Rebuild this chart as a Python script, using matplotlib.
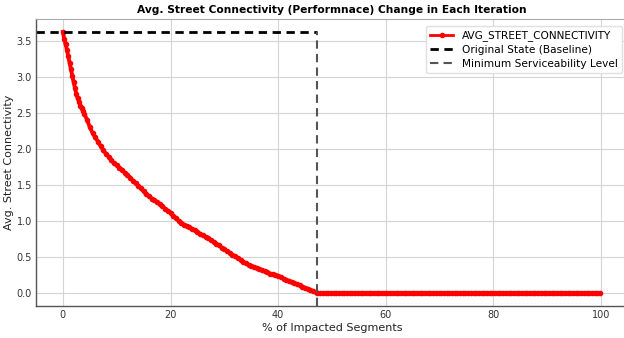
import numpy as np
import matplotlib
matplotlib.use("Agg")
import matplotlib.pyplot as plt

# connectivity after each removal step (% of segments impacted -> avg connectivity)
early_pct = [0.0, 0.25, 0.5, 0.75, 1.0, 1.25, 1.5, 1.75, 2.0, 2.25, 2.5, 2.75,
             3.0, 3.25, 3.5, 3.75, 4.0, 4.5]
early_conn = [3.62, 3.52, 3.45, 3.37, 3.28, 3.19, 3.10, 3.01, 2.92, 2.84,
              2.76, 2.70, 2.65, 2.60, 2.56, 2.52, 2.48, 2.40]

# half-percent steps from 5% up to the point where connectivity hits zero
mid_pct = np.arange(5.0, 47.01, 0.5)
mid_conn = [2.30, 2.22, 2.16, 2.10, 2.04, 1.98, 1.93, 1.89, 1.84, 1.80,
            1.77, 1.74, 1.71, 1.67, 1.64, 1.60, 1.56, 1.52, 1.49, 1.45,
            1.41, 1.37, 1.34, 1.31, 1.29, 1.26, 1.23, 1.20, 1.17, 1.14,
            1.11, 1.07, 1.04, 1.00, 0.97, 0.95, 0.93, 0.91, 0.89, 0.87,
            0.85, 0.82, 0.80, 0.78, 0.76, 0.73, 0.71, 0.68, 0.66, 0.63,
            0.61, 0.58, 0.56, 0.53, 0.51, 0.48, 0.46, 0.43, 0.41, 0.39,
            0.38, 0.36, 0.35, 0.33, 0.32, 0.30, 0.29, 0.27, 0.26, 0.25,
            0.24, 0.22, 0.20, 0.18, 0.17, 0.15, 0.14, 0.12, 0.11, 0.09,
            0.07, 0.06, 0.04, 0.03, 0.01]

# network fully disconnected for the remaining steps
tail_pct = np.arange(47.3, 100.01, 0.5)
tail_conn = np.zeros(len(tail_pct))

baseline = 3.62
min_service_pct = 47.3

x = np.concatenate([early_pct, mid_pct, tail_pct])
y = np.concatenate([early_conn, mid_conn, tail_conn])

fig = plt.figure(figsize=(6.24, 3.38), dpi=100)
ax = fig.add_axes([36 / 624, 32 / 338, 592 / 624, 287 / 338])

ax.plot(x, y, color="red", lw=2.8, marker="o", ms=3.0, label="AVG_STREET_CONNECTIVITY")
ax.hlines(baseline, -5, min_service_pct, colors="black", linestyles=(0, (3, 2)),
          lw=2, label="Original State (Baseline)")
ax.set_xlim(-5, 105)
ax.set_ylim(-0.18, 3.80)
ax.vlines(min_service_pct, -0.18, baseline, colors="#555555", linestyles=(0, (4, 2.5)),
          lw=1.5, label="Minimum Serviceability Level")

ax.set_xticks([0, 20, 40, 60, 80, 100])
ax.set_yticks([0.0, 0.5, 1.0, 1.5, 2.0, 2.5, 3.0, 3.5])
ax.grid(True, color="#d4d4d4", lw=0.8)
ax.set_axisbelow(True)
ax.tick_params(length=0, labelsize=7, colors="#333333", pad=3)

for side in ["left", "bottom"]:
    ax.spines[side].set_color("#555555")
    ax.spines[side].set_linewidth(1.0)
ax.spines["top"].set_color("#aaaaaa")
ax.spines["right"].set_visible(False)

ax.set_xlabel("% of Impacted Segments", fontsize=8, color="#222222", labelpad=2)
ax.set_ylabel("Avg. Street Connectivity", fontsize=8, color="#222222", labelpad=2)
ax.set_title("Avg. Street Connectivity (Performnace) Change in Each Iteration",
             fontsize=7.7, fontweight="bold", pad=4)

leg = ax.legend(loc="upper right", bbox_to_anchor=(627 / 624, 1 - 21 / 338),
                bbox_transform=fig.transFigure, fontsize=7.6, framealpha=1,
                edgecolor="#e0e0e0", handlelength=2.2, borderpad=0.4, labelspacing=0.35)
leg.get_lines()[0].set_linewidth(2.0)

fig.savefig("out.png", dpi=100)
